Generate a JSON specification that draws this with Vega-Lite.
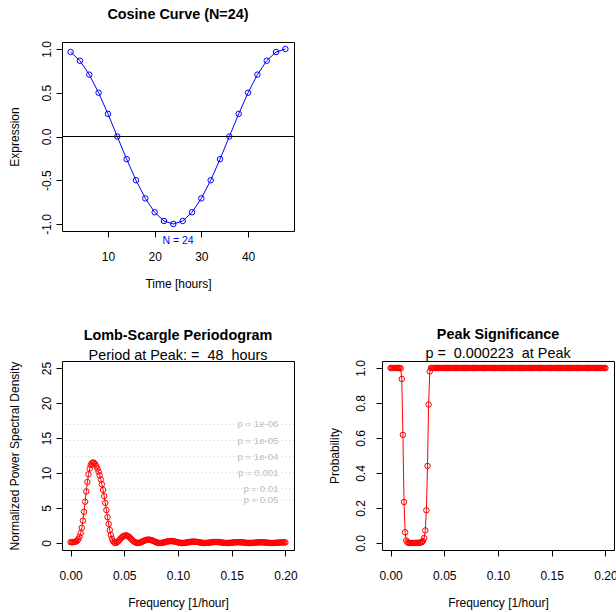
{
"$schema": "https://vega.github.io/schema/vega-lite/v6.json",
"autosize": {"type": "pad"},
"padding": {"left": 7, "top": 6, "right": 0, "bottom": 8},
"background": "white",
"config": {
  "font": "Liberation Sans",
  "view": {"stroke": "black", "strokeWidth": 1},
  "axis": {"domain": false, "grid": false, "tickColor": "black", "tickSize": 6, "tickWidth": 1, "labelFont": "Liberation Sans", "labelFontSize": 12, "labelColor": "black", "titleFont": "Liberation Sans", "titleFontSize": 12, "titleFontWeight": "normal", "titleColor": "black", "labelOverlap": false, "labelFlush": false},
  "axisX": {"labelBaseline": "alphabetic", "labelPadding": 23.5, "titleBaseline": "alphabetic"},
  "axisY": {"labelAngle": -90, "labelAlign": "center", "labelBaseline": "alphabetic", "labelPadding": 6, "titleAngle": -90, "titleBaseline": "alphabetic"},
  "title": {"font": "Liberation Sans", "fontSize": 14.4, "fontWeight": "bold", "color": "black", "subtitleFont": "Liberation Sans", "subtitleFontSize": 14.4, "subtitleFontWeight": "normal", "subtitleColor": "black", "anchor": "middle"}
},
"datasets": {
  "cos": [
    {"t":2,"y":0.965926},{"t":4,"y":0.866025},{"t":6,"y":0.707107},{"t":8,"y":0.5},{"t":10,"y":0.258819},{"t":12,"y":0},
    {"t":14,"y":-0.258819},{"t":16,"y":-0.5},{"t":18,"y":-0.707107},{"t":20,"y":-0.866025},{"t":22,"y":-0.965926},{"t":24,"y":-1},
    {"t":26,"y":-0.965926},{"t":28,"y":-0.866025},{"t":30,"y":-0.707107},{"t":32,"y":-0.5},{"t":34,"y":-0.258819},{"t":36,"y":0},
    {"t":38,"y":0.258819},{"t":40,"y":0.5},{"t":42,"y":0.707107},{"t":44,"y":0.866025},{"t":46,"y":0.965926},{"t":48,"y":1}
  ],
  "sig": [
    {"level":"p = 0.05","P":6.1},{"level":"p = 0.01","P":7.73},{"level":"p = 0.001","P":10.04},
    {"level":"p = 1e-04","P":12.34},{"level":"p = 1e-05","P":14.64},{"level":"p = 1e-06","P":16.94}
  ],
  "ls": [
    {"f":0,"P":0.12,"p":1},{"f":0.001042,"P":0.1203,"p":1},{"f":0.002083,"P":0.1231,"p":1},{"f":0.003125,"P":0.1337,"p":1},
    {"f":0.004167,"P":0.1621,"p":1},{"f":0.005208,"P":0.2241,"p":1},{"f":0.00625,"P":0.3429,"p":1},{"f":0.007292,"P":0.551,"p":1},
    {"f":0.008333,"P":0.8912,"p":1},{"f":0.009375,"P":1.414,"p":0.9983},{"f":0.010417,"P":2.169,"p":0.9374},{"f":0.011458,"P":3.1874,"p":0.6182},
    {"f":0.0125,"P":4.4545,"p":0.2343},{"f":0.013542,"P":5.8918,"p":0.0612},{"f":0.014583,"P":7.3621,"p":0.0144},{"f":0.015625,"P":8.7099,"p":0.0038},
    {"f":0.016667,"P":9.8152,"p":0.0012},{"f":0.017708,"P":10.6243,"p":0.0006},{"f":0.01875,"P":11.1448,"p":0.0003},{"f":0.019792,"P":11.3896,"p":0.0003},
    {"f":0.020833,"P":11.5,"p":0.0002},{"f":0.021875,"P":11.433,"p":0.0002},{"f":0.022917,"P":11.2519,"p":0.0003},{"f":0.023958,"P":10.9784,"p":0.0004},
    {"f":0.025,"P":10.6236,"p":0.0006},{"f":0.026042,"P":10.1901,"p":0.0009},{"f":0.027083,"P":9.6756,"p":0.0014},{"f":0.028125,"P":9.0739,"p":0.0026},
    {"f":0.029167,"P":8.3781,"p":0.0052},{"f":0.030208,"P":7.5842,"p":0.0116},{"f":0.03125,"P":6.6953,"p":0.0279},{"f":0.032292,"P":5.7264,"p":0.0719},
    {"f":0.033333,"P":4.7079,"p":0.187},{"f":0.034375,"P":3.6853,"p":0.4402},{"f":0.035417,"P":2.7143,"p":0.7911},{"f":0.036458,"P":1.8508,"p":0.9798},
    {"f":0.0375,"P":1.1393,"p":0.9999},{"f":0.038542,"P":0.6046,"p":1},{"f":0.039583,"P":0.2491,"p":1},{"f":0.040625,"P":0.0569,"p":1},
    {"f":0.041667,"P":0,"p":1},{"f":0.042708,"P":0.0458,"p":1},{"f":0.04375,"P":0.1623,"p":1},{"f":0.044792,"P":0.3206,"p":1},
    {"f":0.045833,"P":0.4969,"p":1},{"f":0.046875,"P":0.6713,"p":1},{"f":0.047917,"P":0.8283,"p":1},{"f":0.048958,"P":0.9553,"p":1},
    {"f":0.05,"P":1.0424,"p":1},{"f":0.051042,"P":1.0831,"p":1},{"f":0.052083,"P":1.0737,"p":1},{"f":0.053125,"P":1.0144,"p":1},
    {"f":0.054167,"P":0.9104,"p":1},{"f":0.055208,"P":0.7715,"p":1},{"f":0.05625,"P":0.6115,"p":1},{"f":0.057292,"P":0.4469,"p":1},
    {"f":0.058333,"P":0.2939,"p":1},{"f":0.059375,"P":0.1661,"p":1},{"f":0.060417,"P":0.0727,"p":1},{"f":0.061458,"P":0.0176,"p":1},
    {"f":0.0625,"P":0,"p":1},{"f":0.063542,"P":0.0157,"p":1},{"f":0.064583,"P":0.0583,"p":1},{"f":0.065625,"P":0.1199,"p":1},
    {"f":0.066667,"P":0.192,"p":1},{"f":0.067708,"P":0.2661,"p":1},{"f":0.06875,"P":0.3385,"p":1},{"f":0.069792,"P":0.4004,"p":1},
    {"f":0.070833,"P":0.4461,"p":1},{"f":0.071875,"P":0.4716,"p":1},{"f":0.072917,"P":0.474,"p":1},{"f":0.073958,"P":0.4569,"p":1},
    {"f":0.075,"P":0.4176,"p":1},{"f":0.076042,"P":0.36,"p":1},{"f":0.077083,"P":0.29,"p":1},{"f":0.078125,"P":0.2152,"p":1},
    {"f":0.079167,"P":0.1445,"p":1},{"f":0.080208,"P":0.0833,"p":1},{"f":0.08125,"P":0.0371,"p":1},{"f":0.082292,"P":0.0091,"p":1},
    {"f":0.083333,"P":0,"p":1},{"f":0.084375,"P":0.0084,"p":1},{"f":0.085417,"P":0.0315,"p":1},{"f":0.086458,"P":0.0658,"p":1},
    {"f":0.0875,"P":0.1068,"p":1},{"f":0.088542,"P":0.1502,"p":1},{"f":0.089583,"P":0.1928,"p":1},{"f":0.090625,"P":0.2302,"p":1},
    {"f":0.091667,"P":0.2589,"p":1},{"f":0.092708,"P":0.2762,"p":1},{"f":0.09375,"P":0.2803,"p":1},{"f":0.094792,"P":0.2717,"p":1},
    {"f":0.095833,"P":0.25,"p":1},{"f":0.096875,"P":0.2171,"p":1},{"f":0.097917,"P":0.1763,"p":1},{"f":0.098958,"P":0.1321,"p":1},
    {"f":0.1,"P":0.0894,"p":1},{"f":0.101042,"P":0.052,"p":1},{"f":0.102083,"P":0.0234,"p":1},{"f":0.103125,"P":0.0058,"p":1},
    {"f":0.104167,"P":0,"p":1},{"f":0.105208,"P":0.0054,"p":1},{"f":0.10625,"P":0.0206,"p":1},{"f":0.107292,"P":0.0434,"p":1},
    {"f":0.108333,"P":0.0712,"p":1},{"f":0.109375,"P":0.101,"p":1},{"f":0.110417,"P":0.1302,"p":1},{"f":0.111458,"P":0.1561,"p":1},
    {"f":0.1125,"P":0.1762,"p":1},{"f":0.113542,"P":0.1887,"p":1},{"f":0.114583,"P":0.1923,"p":1},{"f":0.115625,"P":0.1874,"p":1},
    {"f":0.116667,"P":0.1734,"p":1},{"f":0.117708,"P":0.1514,"p":1},{"f":0.11875,"P":0.1238,"p":1},{"f":0.119792,"P":0.0934,"p":1},
    {"f":0.120833,"P":0.0634,"p":1},{"f":0.121875,"P":0.037,"p":1},{"f":0.122917,"P":0.0167,"p":1},{"f":0.123958,"P":0.0042,"p":1},
    {"f":0.125,"P":0,"p":1},{"f":0.126042,"P":0.004,"p":1},{"f":0.127083,"P":0.015,"p":1},{"f":0.128125,"P":0.0318,"p":1},
    {"f":0.129167,"P":0.0523,"p":1},{"f":0.130208,"P":0.0745,"p":1},{"f":0.13125,"P":0.0965,"p":1},{"f":0.132292,"P":0.1161,"p":1},
    {"f":0.133333,"P":0.1317,"p":1},{"f":0.134375,"P":0.1418,"p":1},{"f":0.135417,"P":0.1452,"p":1},{"f":0.136458,"P":0.142,"p":1},
    {"f":0.1375,"P":0.1318,"p":1},{"f":0.138542,"P":0.1155,"p":1},{"f":0.139583,"P":0.0947,"p":1},{"f":0.140625,"P":0.0717,"p":1},
    {"f":0.141667,"P":0.0489,"p":1},{"f":0.142708,"P":0.0286,"p":1},{"f":0.14375,"P":0.013,"p":1},{"f":0.144792,"P":0.0033,"p":1},
    {"f":0.145833,"P":0,"p":1},{"f":0.146875,"P":0.0031,"p":1},{"f":0.147917,"P":0.0118,"p":1},{"f":0.148958,"P":0.025,"p":1},
    {"f":0.15,"P":0.0413,"p":1},{"f":0.151042,"P":0.059,"p":1},{"f":0.152083,"P":0.0767,"p":1},{"f":0.153125,"P":0.0927,"p":1},
    {"f":0.154167,"P":0.1055,"p":1},{"f":0.155208,"P":0.114,"p":1},{"f":0.15625,"P":0.1173,"p":1},{"f":0.157292,"P":0.1151,"p":1},
    {"f":0.158333,"P":0.1072,"p":1},{"f":0.159375,"P":0.0943,"p":1},{"f":0.160417,"P":0.0776,"p":1},{"f":0.161458,"P":0.0589,"p":1},
    {"f":0.1625,"P":0.0403,"p":1},{"f":0.163542,"P":0.0237,"p":1},{"f":0.164583,"P":0.0108,"p":1},{"f":0.165625,"P":0.0027,"p":1},
    {"f":0.166667,"P":0,"p":1},{"f":0.167708,"P":0.0026,"p":1},{"f":0.16875,"P":0.0098,"p":1},{"f":0.169792,"P":0.0208,"p":1},
    {"f":0.170833,"P":0.0344,"p":1},{"f":0.171875,"P":0.0494,"p":1},{"f":0.172917,"P":0.0643,"p":1},{"f":0.173958,"P":0.078,"p":1},
    {"f":0.175,"P":0.0892,"p":1},{"f":0.176042,"P":0.0968,"p":1},{"f":0.177083,"P":0.1001,"p":1},{"f":0.178125,"P":0.0987,"p":1},
    {"f":0.179167,"P":0.0923,"p":1},{"f":0.180208,"P":0.0815,"p":1},{"f":0.18125,"P":0.0673,"p":1},{"f":0.182292,"P":0.0512,"p":1},
    {"f":0.183333,"P":0.0351,"p":1},{"f":0.184375,"P":0.0206,"p":1},{"f":0.185417,"P":0.0094,"p":1},{"f":0.186458,"P":0.0024,"p":1},
    {"f":0.1875,"P":0,"p":1},{"f":0.188542,"P":0.0022,"p":1},{"f":0.189583,"P":0.0086,"p":1},{"f":0.190625,"P":0.0181,"p":1},
    {"f":0.191667,"P":0.0299,"p":1},{"f":0.192708,"P":0.0429,"p":1},{"f":0.19375,"P":0.0561,"p":1},{"f":0.194792,"P":0.0683,"p":1},
    {"f":0.195833,"P":0.0786,"p":1},{"f":0.196875,"P":0.0859,"p":1},{"f":0.197917,"P":0.0894,"p":1},{"f":0.198958,"P":0.0887,"p":1},
    {"f":0.2,"P":0.0835,"p":1}
  ]
},
"columns": 2,
"spacing": {"row": 130, "column": 88},
"bounds": "flush",
"concat": [
  {
    "width": 232, "height": 189,
    "title": {"text": "Cosine Curve (N=24)", "offset": 18},
    "layer": [
      {"data": {"name": "cos"}, "mark": {"type": "line", "color": "#0000ff", "strokeWidth": 1},
       "encoding": {
         "x": {"field": "t", "type": "quantitative", "scale": {"domain": [0.16, 49.84], "nice": false, "zero": false},
               "axis": {"values": [10, 20, 30, 40], "tickCount": 20, "labelOverlap": false, "title": "Time [hours]", "titleY": 56.5}},
         "y": {"field": "y", "type": "quantitative", "scale": {"domain": [-1.08, 1.08], "nice": false, "zero": false},
               "axis": {"values": [-1, -0.5, 0, 0.5, 1], "tickCount": 20, "format": ".1f", "labelOverlap": false, "labelExpr": "replace(datum.label, '\u2212', '-')", "title": "Expression", "titleX": -44}}
       }},
      {"data": {"name": "cos"}, "mark": {"type": "point", "shape": "circle", "filled": false, "color": "#0000ff", "size": 30, "strokeWidth": 1, "opacity": 1},
       "encoding": {"x": {"field": "t", "type": "quantitative"}, "y": {"field": "y", "type": "quantitative"}}},
      {"data": {"values": [{}]}, "mark": {"type": "rule", "color": "black", "strokeWidth": 1},
       "encoding": {"y": {"datum": 0}}},
      {"data": {"values": [{"label": "N = 24"}]}, "mark": {"type": "text", "color": "#0000ff", "fontSize": 10.5, "baseline": "middle", "dy": 9.5, "font": "Liberation Sans"},
       "encoding": {"x": {"datum": 25}, "y": {"datum": -1.08}, "text": {"field": "label"}}}
    ]
  },
  {
    "width": 232, "height": 189,
    "view": {"stroke": null},
    "data": {"values": [{}]},
    "mark": {"type": "text"},
    "encoding": {"text": {"value": ""}}
  },
  {
    "width": 232, "height": 189,
    "title": {"text": "Lomb-Scargle Periodogram", "subtitle": "Period at Peak: =\u00a0 48\u00a0 hours", "offset": -2, "subtitlePadding": 5},
    "layer": [
      {"data": {"name": "sig"}, "mark": {"type": "rule", "color": "#cccccc", "strokeDash": [1, 3], "strokeWidth": 1},
       "encoding": {"y": {"field": "P", "type": "quantitative", "scale": {"domain": [-1, 26], "nice": false, "zero": false},
               "axis": {"values": [0, 5, 10, 15, 20, 25], "tickCount": 20, "format": "d", "labelOverlap": false, "title": "Normalized Power Spectral Density", "titleX": -44}}}},
      {"data": {"name": "sig"}, "mark": {"type": "text", "align": "right", "baseline": "middle", "dx": -7, "fontSize": 9.6, "color": "#bebebe", "font": "Liberation Sans"},
       "encoding": {"x": {"datum": 0.2}, "y": {"field": "P", "type": "quantitative"}, "text": {"field": "level"}}},
      {"data": {"name": "ls"}, "mark": {"type": "line", "color": "#ff0000", "strokeWidth": 1},
       "encoding": {
         "x": {"field": "f", "type": "quantitative", "scale": {"domain": [-0.008, 0.208], "nice": false, "zero": false},
               "axis": {"values": [0, 0.05, 0.1, 0.15, 0.2], "tickCount": 20, "format": ".2f", "labelOverlap": false, "title": "Frequency [1/hour]", "titleY": 56.5}},
         "y": {"field": "P", "type": "quantitative"}
       }},
      {"data": {"name": "ls"}, "mark": {"type": "point", "shape": "circle", "filled": false, "color": "#ff0000", "size": 30, "strokeWidth": 1, "opacity": 1},
       "encoding": {"x": {"field": "f", "type": "quantitative"}, "y": {"field": "P", "type": "quantitative"}}}
    ]
  },
  {
    "width": 232, "height": 189,
    "title": {"text": "Peak Significance", "subtitle": "p =\u00a0 0.000223\u00a0 at Peak", "offset": -2, "subtitlePadding": 5},
    "layer": [
      {"data": {"name": "ls"}, "mark": {"type": "line", "color": "#ff0000", "strokeWidth": 1},
       "encoding": {
         "x": {"field": "f", "type": "quantitative", "scale": {"domain": [-0.008, 0.208], "nice": false, "zero": false},
               "axis": {"values": [0, 0.05, 0.1, 0.15, 0.2], "tickCount": 20, "format": ".2f", "labelOverlap": false, "title": "Frequency [1/hour]", "titleY": 56.5}},
         "y": {"field": "p", "type": "quantitative", "scale": {"domain": [-0.04, 1.04], "nice": false, "zero": false},
               "axis": {"values": [0, 0.2, 0.4, 0.6, 0.8, 1], "tickCount": 20, "format": ".1f", "labelOverlap": false, "title": "Probability", "titleX": -44, "labelPadding": 12}}
       }},
      {"data": {"name": "ls"}, "mark": {"type": "point", "shape": "circle", "filled": false, "color": "#ff0000", "size": 30, "strokeWidth": 1, "opacity": 1},
       "encoding": {"x": {"field": "f", "type": "quantitative"}, "y": {"field": "p", "type": "quantitative"}}}
    ]
  }
]
}
